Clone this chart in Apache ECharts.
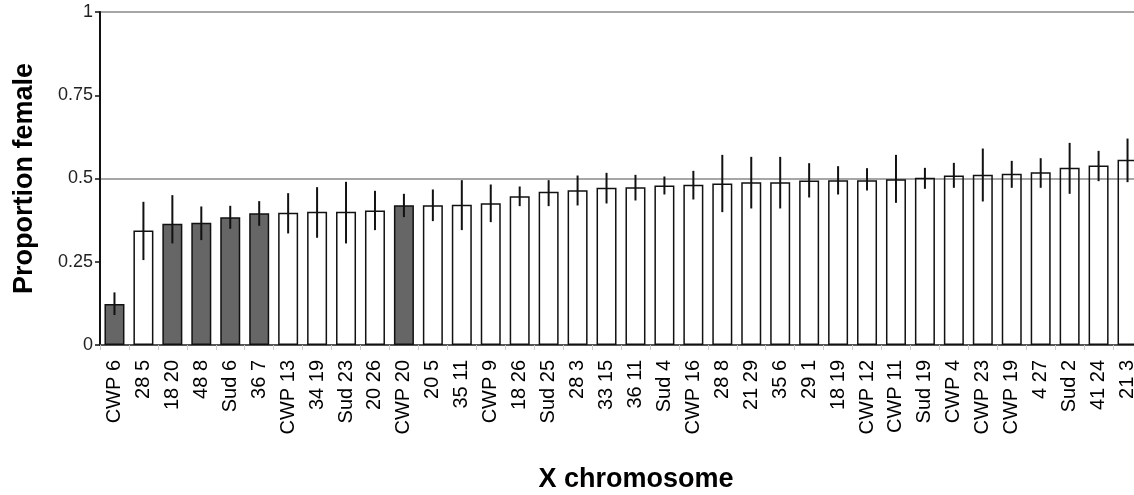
<!DOCTYPE html>
<html>
<head>
<meta charset="utf-8">
<title>Proportion female by X chromosome</title>
<script src="https://cdn.jsdelivr.net/npm/echarts@6/dist/echarts.min.js"></script>
<style>
  html, body { margin: 0; padding: 0; background: #fff; }
  #chart { width: 1134px; height: 495px; }
</style>
</head>
<body>
<div id="chart"></div>
<script>
// X chromosome lines, sorted by proportion female
const categories = ['CWP 6', '28 5', '18 20', '48 8', 'Sud 6', '36 7', 'CWP 13', '34 19', 'Sud 23', '20 26',
  'CWP 20', '20 5', '35 11', 'CWP 9', '18 26', 'Sud 25', '28 3', '33 15', '36 11', 'Sud 4',
  'CWP 16', '28 8', '21 29', '35 6', '29 1', '18 19', 'CWP 12', 'CWP 11', 'Sud 19', 'CWP 4',
  'CWP 23', 'CWP 19', '4 27', 'Sud 2', '41 24', '21 3']

const means = [0.123, 0.344, 0.364, 0.367, 0.384, 0.396, 0.397, 0.400, 0.400, 0.404,
  0.420, 0.420, 0.421, 0.426, 0.447, 0.460, 0.465, 0.472, 0.474, 0.479,
  0.481, 0.485, 0.489, 0.489, 0.494, 0.495, 0.495, 0.498, 0.502, 0.509,
  0.511, 0.514, 0.519, 0.532, 0.539, 0.556]

// error bar ends
const lower = [0.090, 0.255, 0.305, 0.315, 0.349, 0.358, 0.335, 0.322, 0.305, 0.345,
  0.384, 0.372, 0.345, 0.369, 0.417, 0.417, 0.419, 0.425, 0.434, 0.452,
  0.437, 0.399, 0.410, 0.410, 0.443, 0.452, 0.464, 0.427, 0.469, 0.472,
  0.431, 0.472, 0.472, 0.454, 0.492, 0.489]
const upper = [0.158, 0.430, 0.450, 0.416, 0.418, 0.432, 0.456, 0.474, 0.490, 0.463,
  0.454, 0.467, 0.495, 0.482, 0.476, 0.495, 0.509, 0.517, 0.511, 0.506,
  0.523, 0.571, 0.565, 0.565, 0.546, 0.537, 0.531, 0.571, 0.532, 0.547,
  0.590, 0.553, 0.561, 0.607, 0.583, 0.620]

// lines drawn as dark bars
const shaded = ['CWP 6', '18 20', '48 8', 'Sud 6', '36 7', 'CWP 20']

const yTicks = [0, 0.25, 0.5, 0.75, 1]
const refLines = [0.5, 1]

const FONT = '"Liberation Sans", Arial, Helvetica, sans-serif'

const chart = echarts.init(document.getElementById('chart'))

const barData = means.map((v, i) => ({
  value: v,
  itemStyle: {
    color: shaded.includes(categories[i]) ? '#666666' : 'rgba(255,255,255,0)'
  }
}))

const errData = categories.map((c, i) => [i, lower[i], upper[i]])

const option = {
  animation: false,
  backgroundColor: '#fff',
  grid: {
    // plot runs a little past the right edge, as in the original figure
    left: 100,
    top: 12,
    width: 1042,
    bottom: 150,
    outerBoundsMode: 'none',
    containLabel: false
  },
  xAxis: {
    type: 'category',
    data: categories,
    name: 'X chromosome',
    nameLocation: 'middle',
    nameGap: 121,
    nameTextStyle: {
      fontFamily: FONT, fontSize: 27, fontWeight: 'bold', color: '#000',
      padding: [0, 0, 0, 30]
    },
    axisLine: { lineStyle: { color: '#555', width: 2 } },
    axisTick: { show: true, length: 5, lineStyle: { color: '#ccc', width: 1 } },
    axisLabel: {
      rotate: 90,
      interval: 0,
      margin: 15,
      fontFamily: FONT,
      fontSize: 20,
      color: '#000'
    }
  },
  yAxis: [
    {
      type: 'value',
      min: yTicks[0],
      max: yTicks[yTicks.length - 1],
      interval: yTicks[1] - yTicks[0],
      name: 'Proportion female',
      nameLocation: 'middle',
      nameGap: 62,
      nameTextStyle: { fontFamily: FONT, fontSize: 27, fontWeight: 'bold', color: '#000' },
      axisLine: { show: true, lineStyle: { color: '#111', width: 2 } },
      axisTick: { show: true, length: 5, lineStyle: { color: '#111', width: 1.5 } },
      axisLabel: { margin: 7, fontFamily: FONT, fontSize: 18, color: '#222' },
      splitLine: { show: false }
    },
    {
      // only used for the grey reference lines at 0.5 and 1
      type: 'value',
      min: 0,
      max: refLines[1],
      interval: refLines[0],
      position: 'left',
      axisLine: { show: false },
      axisTick: { show: false },
      axisLabel: { show: false },
      splitLine: { show: true, lineStyle: { color: '#888', width: 1.5 } }
    }
  ],
  series: [
    {
      type: 'bar',
      data: barData,
      barWidth: 20,
      itemStyle: { borderColor: '#111', borderWidth: 1.5 },
      z: 3
    },
    {
      type: 'custom',
      data: errData,
      z: 4,
      renderItem: (params, api) => {
        const top = api.coord([api.value(0), api.value(2)])
        const bot = api.coord([api.value(0), api.value(1)])
        return {
          type: 'line',
          shape: { x1: top[0], y1: top[1], x2: bot[0], y2: bot[1] },
          style: { stroke: '#111', lineWidth: 2 }
        }
      }
    }
  ]
}

chart.setOption(option)
</script>
</body>
</html>
